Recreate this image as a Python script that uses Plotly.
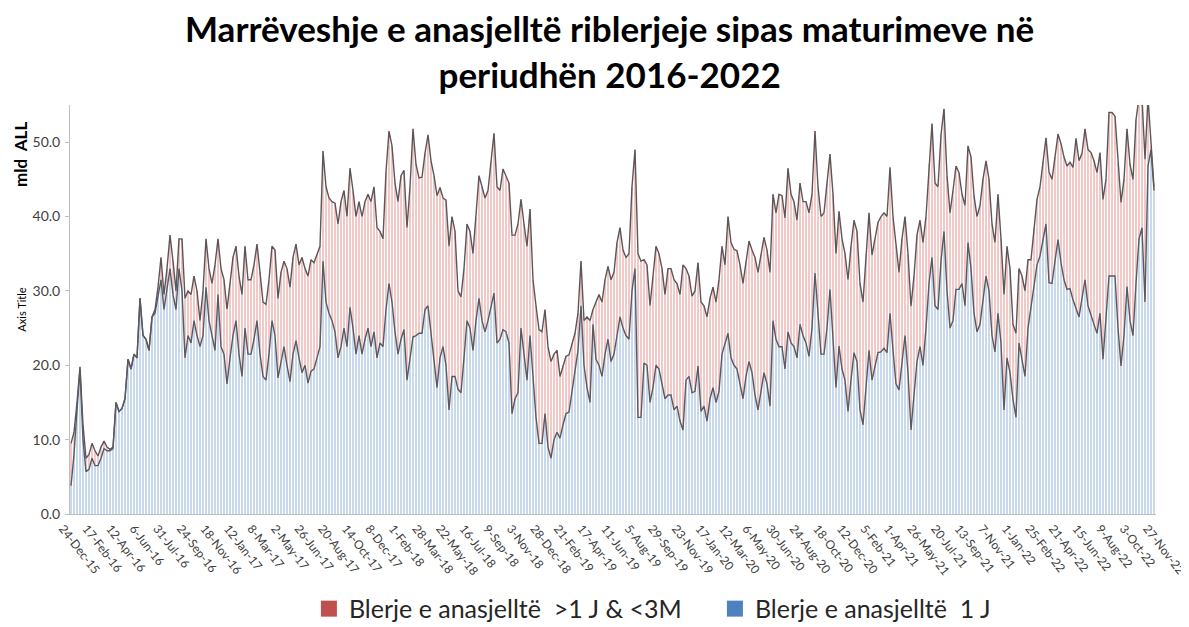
import numpy as np
import pandas as pd
import plotly.graph_objects as go

# ---- data (mld ALL), weekly observations starting 24-Dec-2015 ----
start_date = "2015-12-24"

# total (1 J + >1 J & <3M) -> top line
total = [
    9.5, 11, 15, 19.8, 12, 7.5, 8, 9.5, 8.5, 7.8, 9, 9.8, 9, 8.7, 9, 15, 13.8, 14.2, 15.5, 20.8,
    19.5, 21.5, 21, 29, 24, 23.5, 22, 26.5, 27.5, 30.5, 34.5, 29.5, 33, 37.5, 34, 30, 37, 37, 29, 30,
    29.5, 32, 30, 26, 30, 37, 33, 31, 33.5, 37,
    33, 31.5, 27.5, 31, 34.5, 36, 32, 29.5, 36, 31.5, 31.5, 33.5, 36.3, 32.5, 28.5, 28.2, 31.5, 36, 35.5, 29,
    32.5, 34, 33, 30.5, 34.5, 36.3, 33.5, 34.5, 33, 32, 34.2, 33.8, 35, 36, 48.8, 44, 42.5, 42, 41.8, 39,
    42, 43.5, 40, 46.5, 43.5, 40, 42, 40, 42, 43, 42, 44,
    38.5, 38, 37, 46, 51.5, 49.5, 44.5, 42, 45.5, 46.2, 38.5, 44, 51.8, 47, 45.2, 45.3, 48.5, 51, 47.5, 45.5,
    42.8, 43.9, 42.5, 42.2, 36, 40, 38, 30, 29.2, 33, 39, 38, 35, 40, 45.5, 44, 42.5, 43.5, 47.5, 51.2,
    44, 43.5, 46.4, 45.5, 44.5, 37.5, 37.5, 39, 42.3, 39, 36, 41,
    31.5, 28, 24.8, 24.5, 27.5, 22.5, 20.5, 21.5, 22, 18.5, 20, 21.2, 21.4, 23, 24.3, 27, 34, 26, 26.5, 26,
    27.5, 28.5, 29.5, 28.5, 31.5, 33.3, 31.5, 32.5, 36.5, 38.5, 35.5, 34.5, 35, 44, 49, 35, 34, 34.2, 33.5, 28,
    32, 36, 35, 33, 29.5, 33, 33, 31.5, 31, 29.5, 33.5, 33,
    32, 29.3, 30, 33.8, 28.5, 28, 26.5, 29, 30.5, 28.5, 31.5, 36, 33.5, 40, 36.5, 35.6, 35.4, 33.5, 31, 34,
    36.7, 35.5, 34.5, 32.5, 35, 37.2, 35.5, 32.5, 43, 40.5, 43, 42.8, 39.8, 46.5, 43, 42, 39.5, 44.5, 42, 42,
    40.5, 43, 51.5, 44, 40, 40.5, 44.5, 48.4, 43, 35, 40.7, 37,
    35, 31.5, 36, 39.5, 38, 31, 28.5, 35, 40.5, 34.8, 37, 39.2, 40, 40.5, 40,
    46.6, 40, 36, 32.5, 37, 40, 35, 27.9, 32, 37.5, 39.5, 36.5, 40,
    47, 52.5, 44.5, 44, 51, 54.5, 45.5, 40.5, 43.5, 46.8, 45.9, 43, 41.5,
    49.5, 48, 42.8, 40, 41.5, 45, 47.5, 45, 39, 36.5,
    43, 37, 29.5, 36, 33, 25.5, 24.3, 33, 32, 30,
    34.2, 34.2, 38.5, 42.3, 44, 47.5, 50.6, 46, 45, 48,
    51.1, 49.8, 48, 46.8, 47.3, 46.6, 50.5, 47.5, 48.5, 51.8,
    49, 48.6, 47.5, 45.9, 48.6, 42.3, 45, 54, 54, 53.5,
    47, 41.9, 45, 51.8, 47, 45, 53, 56, 56, 47.7, 56, 49.5, 44,
]

# "Blerje e anasjelltë 1 J" -> lower (blue) series
one_year = [
    3.8, 8, 14, 19.5, 10, 5.7, 6, 7.5, 6.5, 6.5, 7.5, 8.8, 8.5, 8.5, 8.8, 15, 13.8, 14.2, 15.5, 20.8,
    19.5, 21.5, 21, 29, 24, 23.5, 22, 26.5, 27, 29.5, 31.5, 27.5, 30, 33, 29.5, 27.5, 33, 30, 21, 24,
    23, 26, 24, 22.5, 24, 30.5, 26, 24, 22, 29.5,
    22.5, 21.5, 17.5, 21, 24, 26, 21.5, 18.5, 25, 21.5, 21.5, 23.5, 26, 21.5, 18.5, 18, 21.5, 26, 24, 18.3,
    20.5, 22.5, 20, 17.8, 21.5, 23.3, 21, 19, 20, 17.6, 19.2, 19.5, 21, 22.5, 34, 28.5, 27, 26, 24.5, 21,
    22.5, 25, 22.5, 27.8, 25, 21.5, 24, 21.5, 23.5, 25, 22.5, 24.5,
    21, 23, 22.5, 27.5, 31, 28.5, 24.5, 21.5, 23.5, 24.8, 18, 21, 23.8, 24, 24.3, 24.3, 27.5, 28, 24, 20.5,
    17, 21, 22.5, 20, 14, 18.5, 18.5, 16.8, 16.3, 21, 26, 25, 22, 26, 29, 26, 24.5, 26, 28, 29.7,
    23, 23.5, 24.8, 24.5, 23, 13.5, 15.5, 16.3, 25, 21, 18, 24,
    19, 13, 9.5, 9.5, 13.5, 9, 7.5, 10, 11, 10.2, 12, 13.5, 13.7, 16.5, 19.5, 22, 28, 20, 17, 15,
    25.5, 20.8, 20, 18.5, 21.5, 23.5, 20.5, 21.5, 24, 26.5, 25, 24, 23.5, 30, 33, 13, 13, 20.3, 20, 15,
    17, 20, 19.5, 17.5, 15.5, 16, 16, 14, 14.5, 12.5, 11.3, 18,
    18.5, 16.3, 16.5, 19.9, 13.8, 14.5, 12.5, 15.5, 17, 15, 16.5, 21.5, 23, 24.3, 21, 20, 19.5, 17.5, 15.5, 18.5,
    20.5, 19, 16, 14, 16.5, 19, 17.5, 14.5, 26, 23.5, 22.5, 22.5, 19.5, 24.5, 23, 22.5, 21, 25.5, 24, 23,
    21.2, 25, 32.4, 26.5, 21.5, 21.5, 25, 30.2, 23.5, 17, 22.6, 19.5,
    18, 13.8, 18, 21.7, 20.5, 14, 12, 17.5, 22, 18, 20, 21.7, 21.8, 22.3, 21.7,
    27, 22, 17.5, 16.7, 20.5, 24, 19, 11.3, 16, 20.5, 22.5, 20, 25,
    31, 34.5, 28, 27.5, 34, 38, 30, 25, 26, 30.2, 30.2, 31, 28,
    36.5, 33, 27, 24.5, 25.5, 28.5, 32, 30, 24, 21.8,
    27, 23, 14, 21, 19, 15.4, 13, 23, 21, 18.5,
    25, 28, 31, 33.5, 34.7, 37, 39, 31.1, 31, 34,
    36.9, 33.8, 31.5, 30.2, 30.3, 28.8, 27.5, 26.5, 29, 31.5,
    28, 26.6, 25.5, 24.3, 27, 20.8, 26, 32, 32, 32,
    25, 19.9, 24, 30.6, 26, 24, 31, 37, 38.5, 28.5, 46.8, 49, 43.5,
]

series_names = ["Blerje e anasjelltë\u00a0 >1 J &amp; &lt;3M", "Blerje e anasjelltë\u00a0 1 J"]
title_text = "<b>Marrëveshje e anasjelltë riblerjeje sipas maturimeve në<br>periudhën 2016-2022</b>"

# ---- derived ----
n = min(len(total), len(one_year))
total = np.array(total[:n], dtype=float)
one_year = np.array(one_year[:n], dtype=float)
above = np.clip(np.round(total - one_year, 2), 0, None)
dates = pd.date_range(start_date, periods=n, freq="7D")

FONT = "Lato, 'Open Sans', sans-serif"
W, H = 1189, 627
PLOT_W, PLOT_H = 1086, 409   # 3 px per weekly bar
L_MARGIN, T_MARGIN = 62, 97  # page body adds an 8 px offset
px_days = 7 / 3              # days per pixel
x_start = dates[0] - pd.Timedelta(days=px_days)
x_end = x_start + pd.Timedelta(days=px_days * PLOT_W)

fig = go.Figure()
fig.add_bar(x=dates, y=one_year, marker=dict(color="#C8D9EE", line_width=0),
            showlegend=False, hoverinfo="skip")
fig.add_bar(x=dates, y=above, marker=dict(color="#F3C9C8", line_width=0),
            showlegend=False, hoverinfo="skip")
fig.add_scatter(x=dates, y=total, mode="lines", line=dict(color="#5d5557", width=1.4),
                showlegend=False, hoverinfo="skip")
fig.add_scatter(x=dates, y=one_year, mode="lines", line=dict(color="#5a5a60", width=1.4),
                showlegend=False, hoverinfo="skip")

# legend entries
fig.add_scatter(x=[None], y=[None], mode="markers", name=series_names[0],
                marker=dict(symbol="square", size=16, color="#C0504D"))
fig.add_scatter(x=[None], y=[None], mode="markers", name=series_names[1],
                marker=dict(symbol="square", size=16, color="#4F81BD"))

fig.update_layout(
    width=W, height=H,
    margin=dict(l=L_MARGIN, r=W - L_MARGIN - PLOT_W, t=T_MARGIN, b=H - T_MARGIN - PLOT_H,
                autoexpand=False),
    paper_bgcolor="white", plot_bgcolor="white",
    barmode="stack", bargap=1 / 3,
    font=dict(family=FONT, color="#404040"),
    legend=dict(orientation="h", x=0.220, xanchor="left",
                y=-0.232, yanchor="middle", traceorder="normal",
                entrywidth=361, entrywidthmode="pixels",
                font=dict(family=FONT, size=25, color="#262626"), itemwidth=30,
                bgcolor="rgba(0,0,0,0)"),
    xaxis=dict(type="date", range=[x_start, x_end], automargin=False,
               tick0=start_date, dtick=55 * 86400000, tickformat="%-d-%b-%y",
               tickangle=52, tickfont=dict(size=12, color="#404040"),
               ticklabelshift=-8, ticklabelstandoff=2, ticklabeloverflow="allow",
               showline=True, linecolor="#BFBFBF", linewidth=1, showgrid=False,
               ticks="", zeroline=False),
    yaxis=dict(range=[0, 55], dtick=10, tick0=0, tickformat=".1f", automargin=False,
               tickfont=dict(size=14, color="#404040"), ticklabelstandoff=2,
               showline=True, linecolor="#BFBFBF", linewidth=1, showgrid=False,
               ticks="outside", ticklen=4, tickcolor="#BFBFBF", zeroline=False),
    annotations=[
        dict(text=title_text, xref="paper", yref="paper", x=0.497, xanchor="center",
             y=1.132, yanchor="middle", showarrow=False,
             font=dict(family=FONT, size=35, color="#000000")),
        dict(text="<b>mld  ALL</b>", xref="paper", yref="paper", x=-0.045, xanchor="center",
             y=0.878, yanchor="middle",
             showarrow=False, textangle=-90, font=dict(family=FONT, size=17, color="#000000")),
        dict(text="Axis Title", xref="paper", yref="paper", x=-0.045, xanchor="center",
             y=0.5, yanchor="middle",
             showarrow=False, textangle=-90, font=dict(family=FONT, size=11, color="#000000")),
    ],
)

fig.write_html("out.html")
